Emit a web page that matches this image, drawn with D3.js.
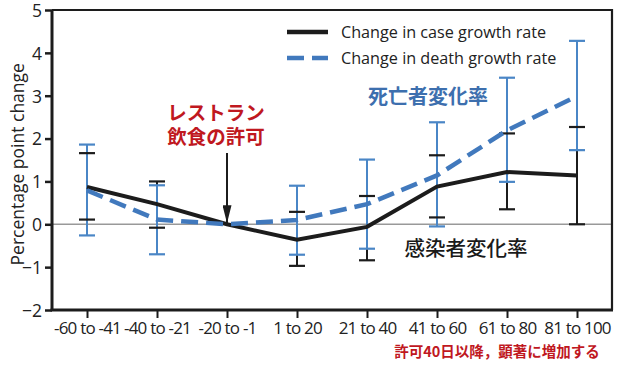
<!DOCTYPE html>
<html>
<head>
<meta charset="utf-8">
<title>Change in growth rate</title>
<script src="https://d3js.org/d3.v7.min.js"></script>
<style>
    body { margin:0; background:#fff; }
    svg { display:block; }
    text { font-family: "Open Sans", "Noto Sans", sans-serif; fill:#222; }
    .jp { font-family: "Noto Sans CJK JP", sans-serif; font-weight:700; }
</style>
</head>
<body>
<svg width="640" height="369"></svg>
<script>

    // data
    let periods = ['-60 to -41', '-40 to -21', '-20 to -1', '1 to 20', '21 to 40', '41 to 60', '61 to 80', '81 to 100'];
    let caseRate  = [0.87, 0.47, 0, -0.36, -0.06, 0.88, 1.22, 1.14];
    let caseHigh  = [1.66, 1.00, null, 0.29, 0.66, 1.61, 2.12, 2.27];
    let caseLow   = [0.11, -0.08, null, -0.97, -0.84, 0.16, 0.35, 0.00];
    let deathRate = [0.79, 0.11, 0, 0.10, 0.47, 1.14, 2.19, 2.99];
    let deathHigh = [1.86, 0.91, null, 0.90, 1.51, 2.38, 3.42, 4.28];
    let deathLow  = [-0.26, -0.70, null, -0.71, -0.57, -0.05, 0.99, 1.73];
    let yTicks = [-2, -1, 0, 1, 2, 3, 4, 5];

    let black = '#1c1c1c';
    let blue = '#4179bd';
    let red = '#c0181f';

    let svg = d3.select('svg');
    let width = 640, height = 369;
    let margin = { top: 10, left: 52, right: 28, bottom: 59 };
    let innerWidth = width - margin.left - margin.right;
    let innerHeight = height - margin.top - margin.bottom;

    let g = svg.append('g')
               .attr('transform', `translate(${margin.left},${margin.top})`);

    let xScale = d3.scalePoint()
                   .domain(periods)
                   .range([0, innerWidth])
                   .padding(0.5);
    let yScale = d3.scaleLinear()
                   .domain([-2, 5])
                   .range([innerHeight, 0]);

    // zero line
    g.append('line')
     .attr('x1', 0).attr('x2', innerWidth)
     .attr('y1', yScale(0)).attr('y2', yScale(0))
     .style('stroke', '#999').style('stroke-width', 1.5);

    // frame (top + right thinner)
    g.append('path')
     .attr('d', `M0,0H${innerWidth}V${innerHeight}`)
     .style('fill', 'none').style('stroke', black).style('stroke-width', 2.2);

    // axes
    let yAxis = g.append('g')
                 .call(d3.axisLeft(yScale).tickValues(yTicks).tickSize(7).tickPadding(3).tickFormat(d3.format('d')));
    yAxis.select('.domain').attr('d', `M0,${innerHeight}V0`).style('stroke', black).style('stroke-width', 3);
    yAxis.selectAll('line').style('stroke', black).style('stroke-width', 2.5);
    yAxis.selectAll('text').style('font-size', '17.5px').style('fill', '#222').attr('dy', '0.36em');

    let xAxis = g.append('g')
                 .attr('transform', `translate(0,${innerHeight})`)
                 .call(d3.axisBottom(xScale).tickSize(8).tickPadding(4));
    xAxis.select('.domain').attr('d', `M-1.5,0H${innerWidth + 1}`).style('stroke', black).style('stroke-width', 3);
    xAxis.selectAll('line').style('stroke', black).style('stroke-width', 2);
    xAxis.selectAll('text').style('font-size', '17px').style('fill', '#222').style('letter-spacing', '-0.8px');

    // y axis title
    svg.append('text')
       .attr('transform', `translate(24,${yScale(1.4) + margin.top}) rotate(-90)`)
       .attr('text-anchor', 'middle')
       .style('font-size', '17.5px')
       .text('Percentage point change');

    // error bars
    function errorRows(high, low) {
        return periods.map((p, i) => ({ p: p, hi: high[i], lo: low[i] })).filter(d => d.hi != null);
    }
    let caseErr = errorRows(caseHigh, caseLow);
    let deathErr = errorRows(deathHigh, deathLow);
    let cap = 8;

    g.selectAll('.case-err')
     .data(caseErr)
     .join('line')
     .classed('case-err', true)
     .attr('x1', d => xScale(d.p)).attr('x2', d => xScale(d.p))
     .attr('y1', d => yScale(d.hi)).attr('y2', d => yScale(d.lo))
     .style('stroke', black).style('stroke-width', 2);

    g.selectAll('.death-err')
     .data(deathErr)
     .join('line')
     .classed('death-err', true)
     .attr('x1', d => xScale(d.p)).attr('x2', d => xScale(d.p))
     .attr('y1', d => yScale(d.hi)).attr('y2', d => yScale(d.lo))
     .style('stroke', '#4a86c6').style('stroke-width', 2);

    function drawCaps(rows, cls, color) {
        let caps = [];
        rows.forEach(d => { caps.push({ p: d.p, v: d.hi }); caps.push({ p: d.p, v: d.lo }); });
        g.selectAll('.' + cls)
         .data(caps)
         .join('line')
         .classed(cls, true)
         .attr('x1', d => xScale(d.p) - cap).attr('x2', d => xScale(d.p) + cap)
         .attr('y1', d => yScale(d.v)).attr('y2', d => yScale(d.v))
         .style('stroke', color).style('stroke-width', 2.2);
    }
    drawCaps(deathErr, 'death-cap', '#4a86c6');
    drawCaps(caseErr, 'case-cap', black);

    // series lines
    let line = d3.line()
                 .x(d => xScale(d.p))
                 .y(d => yScale(d.v));

    g.append('path')
     .datum(periods.map((p, i) => ({ p: p, v: caseRate[i] })))
     .attr('d', line)
     .style('fill', 'none').style('stroke', black).style('stroke-width', 4);

    g.append('path')
     .datum(periods.map((p, i) => ({ p: p, v: deathRate[i] })))
     .attr('d', line)
     .style('fill', 'none').style('stroke', blue).style('stroke-width', 4.5)
     .style('stroke-dasharray', '17,8');

    // legend
    let legend = [
        { label: 'Change in case growth rate', color: black, dash: null },
        { label: 'Change in death growth rate', color: blue, dash: '17,8' }
    ];
    g.selectAll('.legend-line')
     .data(legend)
     .join('line')
     .classed('legend-line', true)
     .attr('x1', 235).attr('x2', 276)
     .attr('y1', (d, i) => 22 + i * 26).attr('y2', (d, i) => 22 + i * 26)
     .style('stroke', d => d.color).style('stroke-width', 4.5)
     .style('stroke-dasharray', d => d.dash);
    g.selectAll('.legend-label')
     .data(legend)
     .join('text')
     .classed('legend-label', true)
     .attr('x', 289)
     .attr('y', (d, i) => 22 + i * 26)
     .attr('dy', '0.36em')
     .style('font-size', '16.2px')
     .text(d => d.label);

    // annotations
    let x0 = xScale('-20 to -1');
    g.append('text').attr('class', 'jp').attr('x', x0 - 11).attr('y', 110)
     .attr('text-anchor', 'middle').style('font-size', '19.5px').style('fill', red).text('レストラン');
    g.append('text').attr('class', 'jp').attr('x', x0 - 11).attr('y', 134)
     .attr('text-anchor', 'middle').style('font-size', '19.5px').style('fill', red).text('飲食の許可');

    svg.append('defs').append('marker')
       .attr('id', 'arrow')
       .attr('viewBox', '0 0 18 9')
       .attr('refX', 18).attr('refY', 4.5)
       .attr('markerWidth', 18).attr('markerHeight', 9)
       .attr('markerUnits', 'userSpaceOnUse')
       .attr('orient', 'auto')
       .append('path').attr('d', 'M0,0L18,4.5L0,9Z').style('fill', black);
    g.append('line')
     .attr('x1', x0).attr('x2', x0)
     .attr('y1', 143).attr('y2', yScale(0) - 1)
     .style('stroke', black).style('stroke-width', 2)
     .attr('marker-end', 'url(#arrow)');

    g.append('text').attr('class', 'jp').attr('x', 376).attr('y', 94)
     .attr('text-anchor', 'middle').style('font-size', '20px').style('fill', '#3d6fae').text('死亡者変化率');
    g.append('text').attr('class', 'jp').attr('x', 414).attr('y', 246)
     .attr('text-anchor', 'middle').style('font-size', '20.5px').style('fill', '#1a1a1a').style('font-weight', 500).text('感染者変化率');
    g.append('text').attr('class', 'jp').attr('x', 445).attr('y', 347)
     .attr('text-anchor', 'middle').style('font-size', '14.5px').style('fill', red).text('許可40日以降，顕著に増加する');

</script>
</body>
</html>
